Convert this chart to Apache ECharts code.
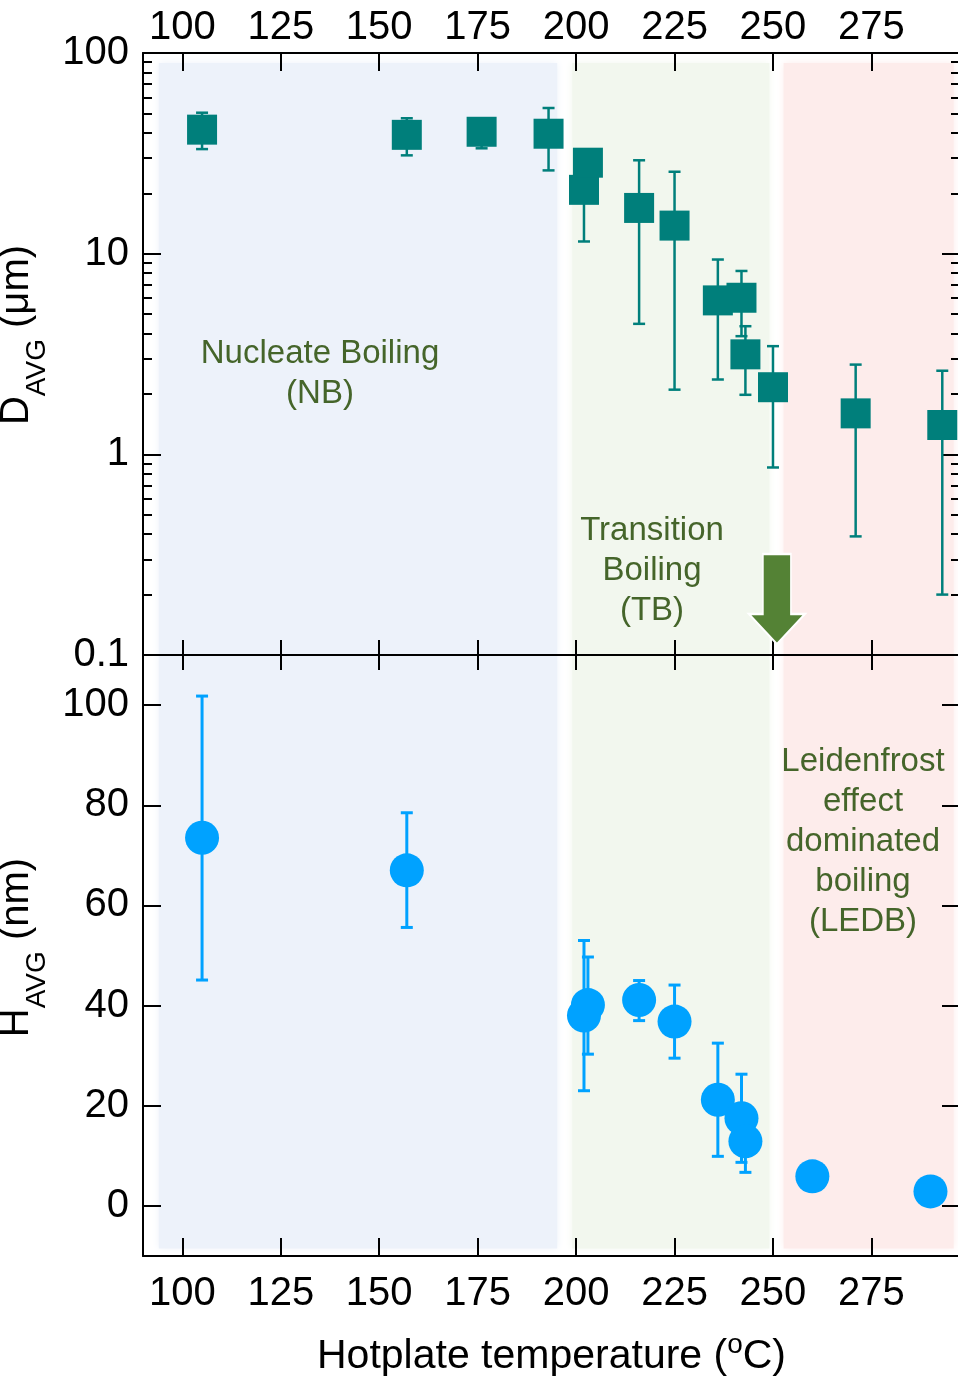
<!DOCTYPE html>
<html>
<head>
<meta charset="utf-8">
<script src="https://cdn.jsdelivr.net/npm/echarts@6/dist/echarts.min.js"></script>
<style>
  html, body { margin: 0; padding: 0; background: #fff; }
  #chart { width: 958px; height: 1378px; }
</style>
</head>
<body>
<div id="chart"></div>
<script>
// hotplate temperature ticks
const tempTicks = [100, 125, 150, 175, 200, 225, 250, 275]

// D_AVG (um), top panel, log scale
const tempD = [105, 157, 176, 193, 202, 203, 216, 225, 236, 242, 243, 250, 271, 293]
const dAvg = [41.5, 39.1, 40.5, 39.6, 20.8, 28.4, 16.9, 13.8, 5.85, 6.03, 3.15, 2.16, 1.6, 1.4]
const dLow = [33.2, 30.9, 33.5, 26.0, 11.5, 25.0, 4.47, 2.1, 2.36, 3.88, 1.98, 0.86, 0.39, 0.2]
const dHigh = [50.4, 47.3, 42.0, 53.2, 26.0, 32.0, 29.2, 25.6, 9.35, 8.2, 4.35, 3.46, 2.8, 2.61]
const dTicks = [0.1, 1, 10, 100]
const dTickLabels = ['0.1', '1', '10', '100']
const dMinor = [0.2, 0.3, 0.4, 0.5, 0.6, 0.7, 0.8, 0.9, 2, 3, 4, 5, 6, 7, 8, 9, 20, 30, 40, 50, 60, 70, 80, 90]

// H_AVG (nm), bottom panel
const tempH = [105, 157, 202, 203, 216, 225, 236, 242, 243, 260, 290]
const hAvg = [73.5, 67.0, 38.0, 40.1, 41.1, 36.8, 21.2, 17.5, 12.9, 5.9, 2.9]
const hLow = [45.1, 55.6, 23.0, 30.3, 37.0, 29.5, 9.9, 8.7, 6.7, null, null]
const hHigh = [101.8, 78.5, 53.0, 49.7, 45.0, 44.1, 32.5, 26.3, 18.0, null, null]
const hTicks = [0, 20, 40, 60, 80, 100]

// boiling regimes (temperature ranges)
const regionStart = [94, 199, 252.7]
const regionEnd = [195.2, 249.1, 295.9]
const regionColors = ['#edf2fa', '#f2f7ee', '#fdeceb']

const FONT = 'Liberation Sans, Arial, Helvetica, sans-serif'
const TEAL = '#007f7b'
const BLUE = '#00a2ff'
const GREEN_TXT = '#45652a'

const lg = (v) => Math.log10(v)

const errorBar = (color, width, cap) => (params, api) => {
  const x = api.value(0)
  const lo = api.coord([x, api.value(1)])
  const hi = api.coord([x, api.value(2)])
  const style = { stroke: color, lineWidth: width }
  return {
    type: 'group',
    children: [
      { type: 'line', shape: { x1: lo[0], y1: lo[1], x2: hi[0], y2: hi[1] }, style },
      { type: 'line', shape: { x1: lo[0] - cap, y1: lo[1], x2: lo[0] + cap, y2: lo[1] }, style },
      { type: 'line', shape: { x1: hi[0] - cap, y1: hi[1], x2: hi[0] + cap, y2: hi[1] }, style },
    ],
  }
}

const bands = (yTop, yBottom) => regionStart.map((s, i) => [
  { xAxis: s, yAxis: yTop, itemStyle: { color: regionColors[i], shadowBlur: 8, shadowColor: regionColors[i] } },
  { xAxis: regionEnd[i], yAxis: yBottom },
])

const line = { onZero: false, lineStyle: { color: '#000', width: 2 } }
const noLine = { show: false, onZero: false }
const tick = (len, values) => ({ inside: true, length: len, lineStyle: { color: '#000', width: 2 }, customValues: values })
const xBase = { type: 'value', min: 90, max: 297.5, z: 3, splitLine: { show: false } }

const xAxes = [
  { ...xBase, gridIndex: 0, position: 'top', axisLine: line, axisTick: tick(18, tempTicks),
    axisLabel: { customValues: tempTicks, color: '#000', fontSize: 40, fontFamily: FONT, margin: 5 } },
  { ...xBase, gridIndex: 0, position: 'bottom', axisLine: line, axisTick: tick(15, tempTicks),
    axisLabel: { show: false } },
  { ...xBase, gridIndex: 1, position: 'top', axisLine: line, axisTick: tick(15, tempTicks),
    axisLabel: { show: false } },
  { ...xBase, gridIndex: 1, position: 'bottom', axisLine: line, axisTick: tick(18, tempTicks),
    axisLabel: { customValues: tempTicks, color: '#000', fontSize: 40, fontFamily: FONT, margin: 18 },
    name: '{t|Hotplate temperature (}{sup|o}{t|C)}',
    nameLocation: 'middle', nameGap: 75,
    nameTextStyle: {
      rich: {
        t: { fontSize: 41, fontFamily: FONT, color: '#000', lineHeight: 52 },
        sup: { fontSize: 28, fontFamily: FONT, color: '#000', lineHeight: 28, padding: [0, 0, 24, 0] },
      },
    } },
]

const dBase = { type: 'value', gridIndex: 0, min: -1, max: 2, z: 3, splitLine: { show: false } }
const hBase = { type: 'value', gridIndex: 1, min: -10, max: 110, z: 3, splitLine: { show: false } }
const subRich = {
  a: { fontSize: 40, fontFamily: FONT, color: '#000', lineHeight: 48, verticalAlign: 'top' },
  s: { fontSize: 28, fontFamily: FONT, color: '#000', lineHeight: 28, verticalAlign: 'top', padding: [26, 0, 0, 0] },
}

const yAxes = [
  { ...dBase, position: 'left', axisLine: line, axisTick: tick(18, dTicks.map(lg)),
    axisLabel: { customValues: dTicks.map(lg), formatter: (v) => dTickLabels[Math.round(v) + 1],
      color: '#000', fontSize: 40, fontFamily: FONT, margin: 14 },
    name: '{a|D}{s|AVG}{a| (μm)}', nameLocation: 'middle', nameGap: 78,
    nameTextStyle: { padding: [0, 0, 0, 38], rich: subRich } },
  { ...dBase, position: 'left', axisLine: noLine, axisTick: tick(9, dMinor.map(lg)),
    axisLabel: { show: false } },
  { ...dBase, position: 'right', axisLine: line, axisTick: tick(18, dTicks.map(lg)),
    axisLabel: { show: false } },
  { ...dBase, position: 'right', axisLine: noLine, axisTick: tick(9, dMinor.map(lg)),
    axisLabel: { show: false } },
  { ...hBase, position: 'left', axisLine: line, axisTick: tick(18, hTicks),
    axisLabel: { customValues: hTicks, color: '#000', fontSize: 40, fontFamily: FONT, margin: 14 },
    name: '{a|H}{s|AVG}{a| (nm)}', nameLocation: 'middle', nameGap: 78,
    nameTextStyle: { padding: [0, 0, 0, 16], rich: subRich } },
  { ...hBase, position: 'right', axisLine: line, axisTick: tick(18, hTicks),
    axisLabel: { show: false } },
]

const dErr = tempD.map((t, i) => [t, lg(dLow[i]), lg(dHigh[i])])
const dPts = tempD.map((t, i) => [t, lg(dAvg[i])])
const hErr = tempH.map((t, i) => [t, hLow[i], hHigh[i]]).filter((r) => r[1] != null)
const hPts = tempH.map((t, i) => [t, hAvg[i]])

const noteStyle = { fill: GREEN_TXT, fontSize: 33, fontFamily: FONT, lineHeight: 40, align: 'center', verticalAlign: 'middle' }

const option = {
  animation: false,
  backgroundColor: '#fff',
  grid: [
    { left: 143, top: 53, width: 817, height: 602, outerBoundsMode: 'none' },
    { left: 143, top: 655, width: 817, height: 601, outerBoundsMode: 'none' },
  ],
  xAxis: xAxes,
  yAxis: yAxes,
  graphic: [
    { type: 'text', x: 320, y: 374, z: 10, style: { ...noteStyle, text: 'Nucleate Boiling\n(NB)' } },
    { type: 'text', x: 652, y: 571, z: 10, style: { ...noteStyle, text: 'Transition\nBoiling\n(TB)' } },
    { type: 'text', x: 863, y: 842, z: 10, style: { ...noteStyle, text: 'Leidenfrost\neffect\ndominated\nboiling\n(LEDB)' } },
  ],
  series: [
    {
      type: 'scatter', xAxisIndex: 0, yAxisIndex: 0, data: [], silent: true, z: 1,
      markArea: { silent: true, label: { show: false }, data: bands(1.95, -1) },
      markPoint: {
        silent: true,
        symbol: 'path://M14,0 L42,0 L42,60 L56,60 L28,90 L0,60 L14,60 Z',
        symbolSize: [56, 90],
        label: { show: false },
        itemStyle: { color: '#548235', borderColor: '#fff', borderWidth: 2 },
        data: [{ coord: [251, lg(0.19)] }],
      },
    },
    {
      type: 'scatter', xAxisIndex: 3, yAxisIndex: 4, data: [], silent: true, z: 1,
      markArea: { silent: true, label: { show: false }, data: bands(110, -8.5) },
    },
    {
      type: 'custom', xAxisIndex: 0, yAxisIndex: 0, z: 4,
      renderItem: errorBar(TEAL, 2.5, 6), encode: { x: 0, y: [1, 2] }, data: dErr,
    },
    {
      type: 'scatter', xAxisIndex: 0, yAxisIndex: 0, z: 5,
      symbol: 'rect', symbolSize: 30, itemStyle: { color: TEAL, opacity: 1 }, data: dPts,
    },
    {
      type: 'custom', xAxisIndex: 3, yAxisIndex: 4, z: 4,
      renderItem: errorBar(BLUE, 3, 6), encode: { x: 0, y: [1, 2] }, data: hErr,
    },
    {
      type: 'scatter', xAxisIndex: 3, yAxisIndex: 4, z: 5,
      symbol: 'circle', symbolSize: 34, itemStyle: { color: BLUE, opacity: 1 }, data: hPts,
    },
  ],
}

const chart = echarts.init(document.getElementById('chart'), null, { renderer: 'canvas' })
chart.setOption(option)
</script>
</body>
</html>
